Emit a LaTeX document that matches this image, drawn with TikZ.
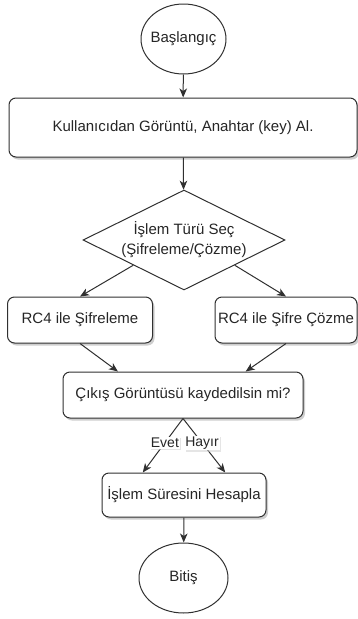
\documentclass[tikz,border=0pt]{standalone}
\usepackage{fontspec}
\setmainfont{Liberation Sans}
\usetikzlibrary{shapes.geometric,arrows.meta,shadows,calc}
\definecolor{ln}{HTML}{303030}
\definecolor{tx}{HTML}{262626}
\begin{document}
\begin{tikzpicture}[x=1pt,y=-1pt,
  every node/.style={font=\fontsize{15}{20}\selectfont, text=tx},
  base/.style={draw=ln, line width=1pt, fill=white, inner sep=0pt, align=center},
  term/.style={base, ellipse},
  proc/.style={base, rectangle, rounded corners=7pt,
    drop shadow={shadow xshift=2pt, shadow yshift=-2.5pt, fill=black!35, opacity=0.55}},
  choice/.style={base, diamond},
  conn/.style={draw=ln, line width=1pt, -{Stealth[length=9pt,width=7.5pt,inset=2.5pt]}},
  lbl/.style={fill=white, inner sep=1pt, font=\fontsize{14}{16}\selectfont,
    drop shadow={shadow xshift=1.5pt, shadow yshift=-1.5pt, fill=black!20, opacity=0.5}}]
\useasboundingbox (0,0) rectangle (358,619);

\node[term, minimum width=85pt, minimum height=70pt, label=center:Başlangıç] (start) at (183.5,39) {};
\node[proc, minimum width=348pt, minimum height=59pt] (input) at (183,127.5) {Kullanıcıdan Görüntü, Anahtar (key) Al.};
\node[choice, minimum width=202pt, minimum height=100pt] (decide) at (184,240) {};
\node[align=center, inner sep=0pt] (decidetext) at (decide.center) {İşlem Türü Seç\\(Şifreleme/Çözme)};
\node[proc, minimum width=145pt, minimum height=46pt] (enc) at (80,320) {RC4 ile Şifreleme};
\node[proc, minimum width=142pt, minimum height=46pt] (dec) at (286,320) {RC4 ile Şifre Çözme};
\node[proc, minimum width=240pt, minimum height=46pt] (save) at (183,395) {Çıkış Görüntüsü kaydedilsin mi?};
\node[proc, minimum width=164pt, minimum height=44pt] (time) at (184,495) {İşlem Süresini Hesapla};
\node[term, minimum width=89pt, minimum height=70pt, label=center:Bitiş] (end) at (183.5,578) {};

\draw[conn] (start) -- (input);
\draw[conn] (input) -- (decide);
\draw[conn] ($(decide.west)!0.5!(decide.south)$) -- (enc.north);
\draw[conn] ($(decide.east)!0.5!(decide.south)$) -- (dec.north);
\draw[conn] (enc.south) -- ($(save.north west)!0.23!(save.north east)$);
\draw[conn] (dec.south) -- ($(save.north west)!0.76!(save.north east)$);
\draw[conn] (save.south) -- node[lbl, pos=0.45] {Evet} ($(time.north west)!0.25!(time.north east)$);
\draw[conn] (save.south) -- node[lbl, pos=0.45] {Hayır} ($(time.north west)!0.75!(time.north east)$);
\draw[conn] (time) -- (end);
\end{tikzpicture}
\end{document}
